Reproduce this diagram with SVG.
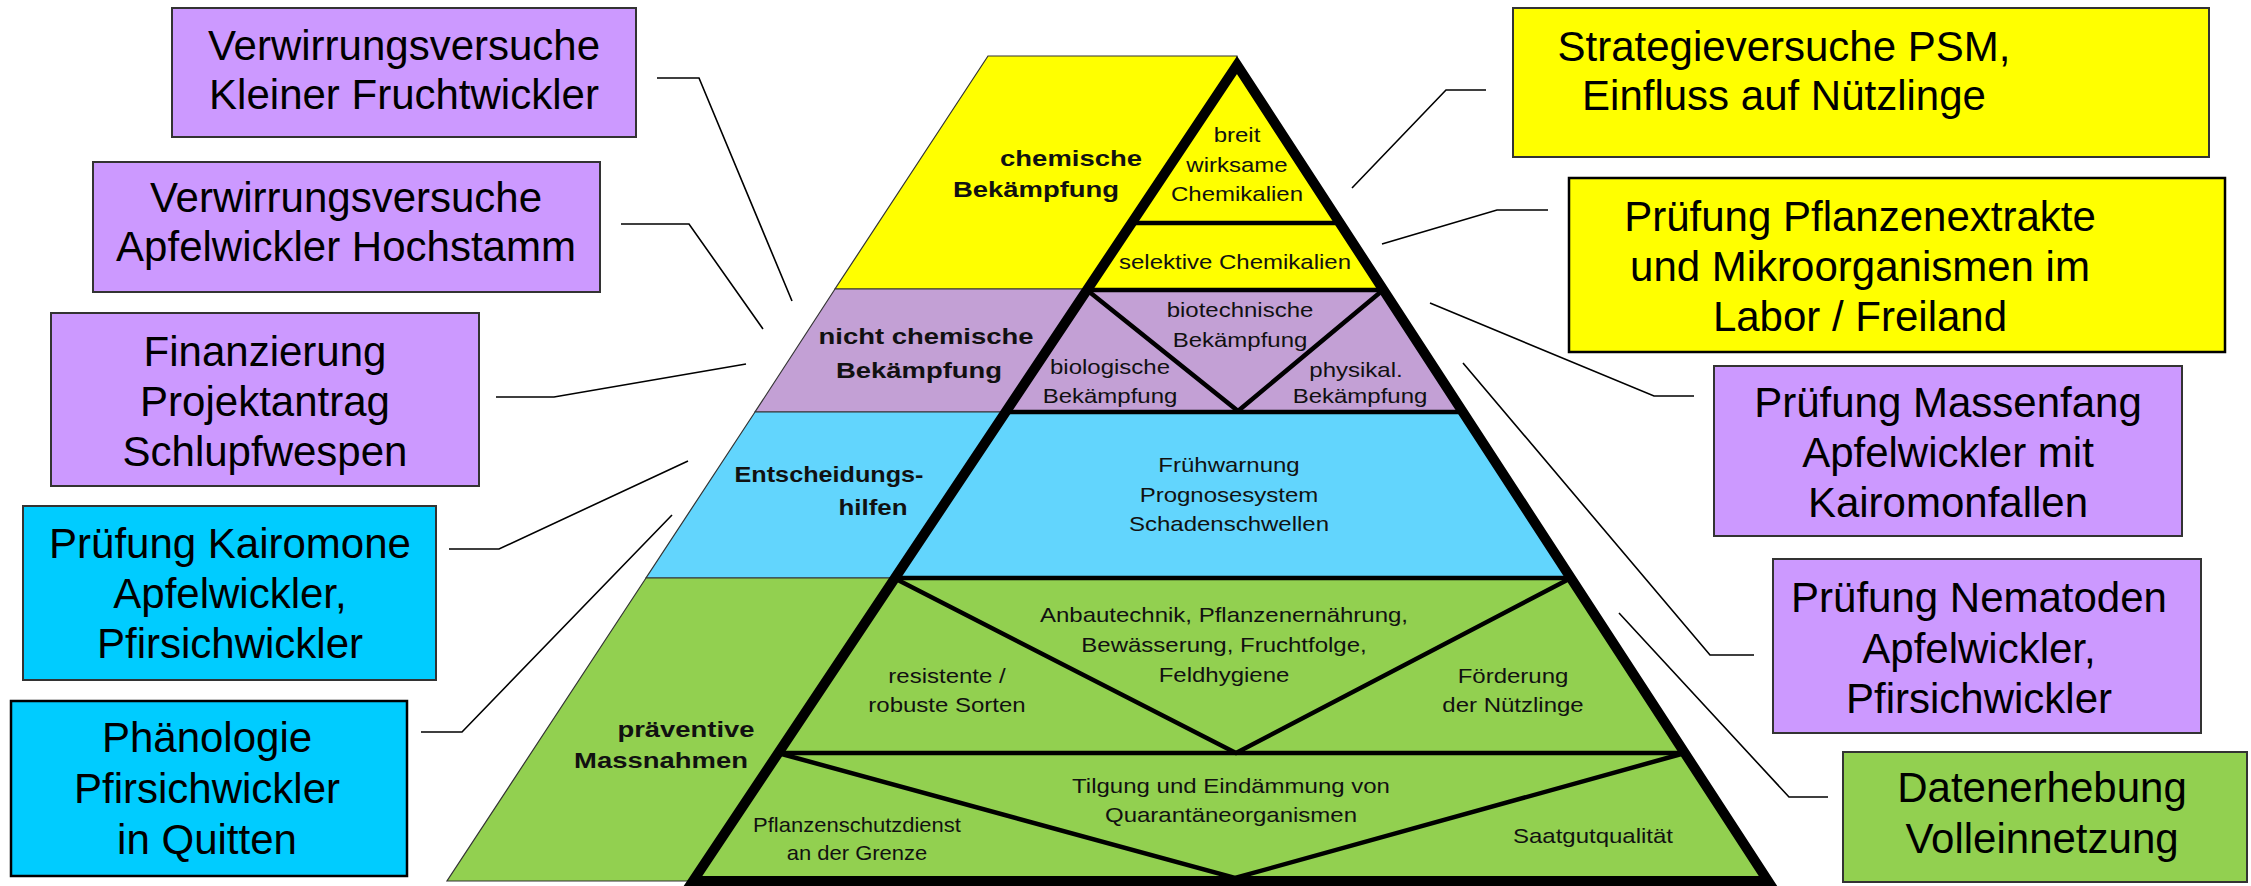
<svg xmlns="http://www.w3.org/2000/svg" width="2251" height="886" viewBox="0 0 2251 886">
<style>
.bx{stroke:#333;stroke-width:2}
.bxk{stroke:#000;stroke-width:2.5}
.pu{fill:#cc99ff}.bl{fill:#00ccff}.ye{fill:#ffff00}.gr{fill:#92d050}
.bt{font-family:"Liberation Sans",Arial,sans-serif;font-size:42px;text-anchor:middle;fill:#000}
.pt{font-family:"Liberation Sans",Arial,sans-serif;font-size:20px;text-anchor:middle;fill:#111}
.pb{font-family:"Liberation Sans",Arial,sans-serif;font-size:22.5px;font-weight:bold;text-anchor:middle;fill:#111}
.band{stroke:#333;stroke-width:1.2}
.in{stroke:#000;stroke-width:4.5;fill:none;stroke-linecap:butt}
.con{stroke:#000;stroke-width:1.6;fill:none}
</style>
<rect width="2251" height="886" fill="#fff"/>

<g id="pyramid">
  <polygon class="band" fill="#ffff00" points="988,56 1237,56 1237,65 1383,289 835,289"/>
  <polygon class="band" fill="#c3a0d5" points="835,289 1383,289 1463,412 755,412"/>
  <polygon class="band" fill="#62d5fd" points="755,412 1463,412 1571,578 646,578"/>
  <polygon class="band" fill="#92d050" points="646,578 1571,578 1768,881 447,881"/>
  <line class="in" x1="1131" y1="223" x2="1340" y2="223"/>
  <line class="in" x1="1087" y1="290" x2="1383" y2="290"/>
  <polyline class="in" points="1087,290 1238,411 1383,290"/>
  <line class="in" x1="1005" y1="412" x2="1463" y2="412"/>
  <line class="in" x1="894" y1="578" x2="1571" y2="578"/>
  <polyline class="in" points="894,578 1236,753 1571,578"/>
  <line class="in" x1="778" y1="753" x2="1685" y2="753"/>
  <polyline class="in" points="778,753 1235,878 1685,753"/>
  <polygon points="1237,65 1768,881 693,881" fill="none" stroke="#000" stroke-width="10" stroke-linejoin="miter" stroke-miterlimit="10"/>

  <text class="pb" transform="translate(1071,166) scale(1.22,1)"><tspan x="0" y="0">chemische</tspan></text>
  <text class="pb" transform="translate(1036,197) scale(1.22,1)"><tspan x="0" y="0">Bekämpfung</tspan></text>
  <text class="pt" transform="translate(1237,142) scale(1.2,1)"><tspan x="0" y="0">breit</tspan><tspan x="0" y="30">wirksame</tspan><tspan x="0" y="59">Chemikalien</tspan></text>
  <text class="pt" transform="translate(1235,269) scale(1.2,1)">selektive Chemikalien</text>
  <text class="pb" transform="translate(926,344) scale(1.22,1)">nicht chemische</text>
  <text class="pb" transform="translate(919,378) scale(1.22,1)">Bekämpfung</text>
  <text class="pt" transform="translate(1240,317) scale(1.2,1)"><tspan x="0" y="0">biotechnische</tspan><tspan x="0" y="30">Bekämpfung</tspan></text>
  <text class="pt" transform="translate(1110,374) scale(1.2,1)"><tspan x="0" y="0">biologische</tspan><tspan x="0" y="29">Bekämpfung</tspan></text>
  <text class="pt" transform="translate(1356,377) scale(1.2,1)">physikal.</text>
  <text class="pt" transform="translate(1360,403) scale(1.2,1)">Bekämpfung</text>
  <text class="pb" transform="translate(829,482) scale(1.12,1)">Entscheidungs-</text>
  <text class="pb" transform="translate(873,515) scale(1.15,1)">hilfen</text>
  <text class="pt" transform="translate(1229,472) scale(1.2,1)"><tspan x="0" y="0">Frühwarnung</tspan><tspan x="0" y="30">Prognosesystem</tspan><tspan x="0" y="59">Schadenschwellen</tspan></text>
  <text class="pt" transform="translate(1224,622) scale(1.2,1)"><tspan x="0" y="0">Anbautechnik, Pflanzenernährung,</tspan><tspan x="0" y="30">Bewässerung, Fruchtfolge,</tspan><tspan x="0" y="60">Feldhygiene</tspan></text>
  <text class="pt" transform="translate(947,683) scale(1.2,1)"><tspan x="0" y="0">resistente /</tspan><tspan x="0" y="29">robuste Sorten</tspan></text>
  <text class="pt" transform="translate(1513,683) scale(1.2,1)"><tspan x="0" y="0">Förderung</tspan><tspan x="0" y="29">der Nützlinge</tspan></text>
  <text class="pb" transform="translate(686,737) scale(1.22,1)">präventive</text>
  <text class="pb" transform="translate(661,768) scale(1.22,1)">Massnahmen</text>
  <text class="pt" transform="translate(1231,793) scale(1.2,1)"><tspan x="0" y="0">Tilgung und Eindämmung von</tspan><tspan x="0" y="29">Quarantäneorganismen</tspan></text>
  <text class="pt" transform="translate(857,832) scale(1.1,1)"><tspan x="0" y="0">Pflanzenschutzdienst</tspan><tspan x="0" y="28">an der Grenze</tspan></text>
  <text class="pt" transform="translate(1593,843) scale(1.2,1)">Saatgutqualität</text>
</g>

<g id="connectors">
  <polyline class="con" points="657,78 699,78 792,301"/>
  <polyline class="con" points="621,224 689,224 763,329"/>
  <polyline class="con" points="496,397 554,397 746,364"/>
  <polyline class="con" points="449,549 499,549 688,461"/>
  <polyline class="con" points="421,732 462,732 672,515"/>
  <polyline class="con" points="1486,90 1446,90 1352,188"/>
  <polyline class="con" points="1548,210 1497,210 1382,244"/>
  <polyline class="con" points="1694,396 1654,396 1430,303"/>
  <polyline class="con" points="1754,655 1710,655 1463,363"/>
  <polyline class="con" points="1828,797 1789,797 1619,613"/>
</g>

<g id="box1"><rect class="bx pu" x="172" y="8" width="464" height="129"/>
<text class="bt"><tspan x="404" y="60">Verwirrungsversuche</tspan><tspan x="404" y="109">Kleiner Fruchtwickler</tspan></text></g>
<g id="box2"><rect class="bx pu" x="93" y="162" width="507" height="130"/>
<text class="bt"><tspan x="346" y="212">Verwirrungsversuche</tspan><tspan x="346" y="261">Apfelwickler Hochstamm</tspan></text></g>
<g id="box3"><rect class="bx pu" x="51" y="313" width="428" height="173"/>
<text class="bt"><tspan x="265" y="366">Finanzierung</tspan><tspan x="265" y="416">Projektantrag</tspan><tspan x="265" y="466">Schlupfwespen</tspan></text></g>
<g id="box4"><rect class="bx bl" x="23" y="506" width="413" height="174"/>
<text class="bt"><tspan x="230" y="558">Prüfung Kairomone</tspan><tspan x="230" y="608">Apfelwickler,</tspan><tspan x="230" y="658">Pfirsichwickler</tspan></text></g>
<g id="box5"><rect class="bxk bl" x="11" y="701" width="396" height="175"/>
<text class="bt"><tspan x="207" y="752">Phänologie</tspan><tspan x="207" y="803">Pfirsichwickler</tspan><tspan x="207" y="854">in Quitten</tspan></text></g>
<g id="box6"><rect class="bx ye" x="1513" y="8" width="696" height="149"/>
<text class="bt"><tspan x="1784" y="61">Strategieversuche PSM,</tspan><tspan x="1784" y="110">Einfluss auf Nützlinge</tspan></text></g>
<g id="box7"><rect class="bxk ye" x="1569" y="178" width="656" height="174"/>
<text class="bt"><tspan x="1860" y="231">Prüfung Pflanzenextrakte</tspan><tspan x="1860" y="281">und Mikroorganismen im</tspan><tspan x="1860" y="331">Labor / Freiland</tspan></text></g>
<g id="box8"><rect class="bx pu" x="1714" y="366" width="468" height="170"/>
<text class="bt"><tspan x="1948" y="417">Prüfung Massenfang</tspan><tspan x="1948" y="467">Apfelwickler mit</tspan><tspan x="1948" y="517">Kairomonfallen</tspan></text></g>
<g id="box9"><rect class="bx pu" x="1773" y="559" width="428" height="174"/>
<text class="bt"><tspan x="1979" y="612">Prüfung Nematoden</tspan><tspan x="1979" y="663">Apfelwickler,</tspan><tspan x="1979" y="713">Pfirsichwickler</tspan></text></g>
<g id="box10"><rect class="bx gr" x="1843" y="752" width="404" height="130"/>
<text class="bt"><tspan x="2042" y="802">Datenerhebung</tspan><tspan x="2042" y="853">Volleinnetzung</tspan></text></g>
</svg>
